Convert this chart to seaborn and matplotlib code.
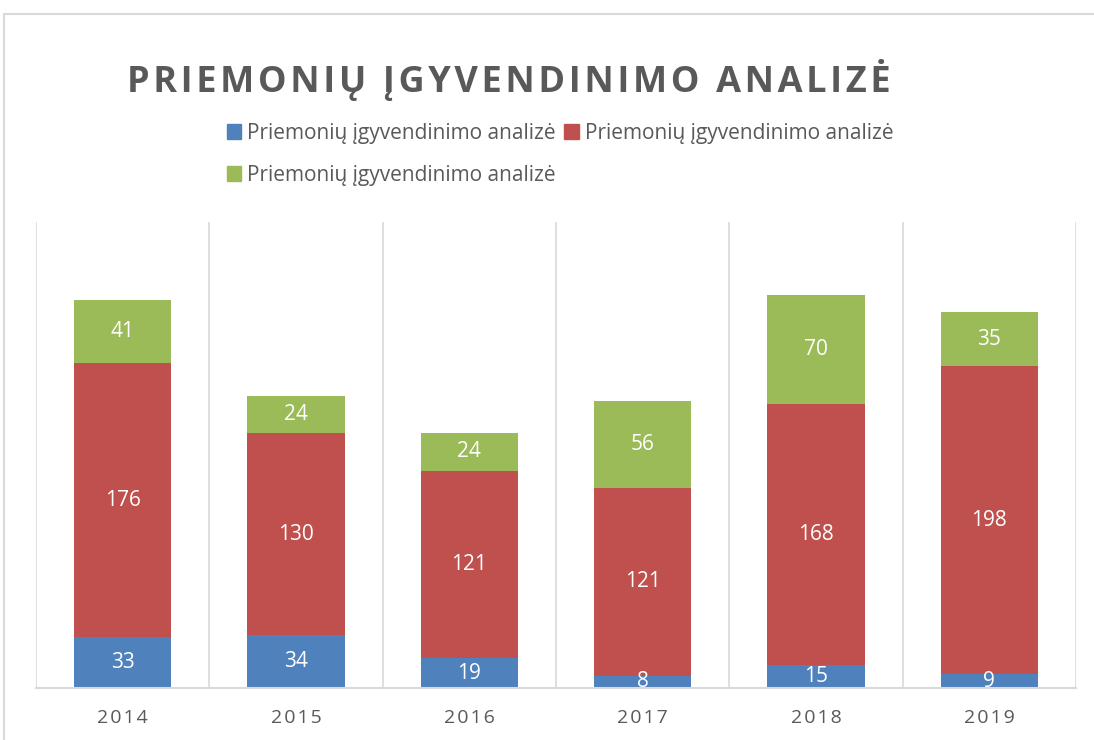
import pandas as pd
import seaborn as sns
import matplotlib.pyplot as plt
from matplotlib.patches import Patch, Rectangle

# values
years = ["2014", "2015", "2016", "2017", "2018", "2019"]
blue_vals = [33, 34, 19, 8, 15, 9]
red_vals = [176, 130, 121, 121, 168, 198]
green_vals = [41, 24, 24, 56, 70, 35]
series_label = "Priemonių įgyvendinimo analizė"
title = "PRIEMONIŲ ĮGYVENDINIMO ANALIZĖ"

c_blue, c_red, c_green = "#4F81BD", "#C0504D", "#9BBB59"
grid_c = "#D9D9D9"
text_c = "#595959"


def spaced(s):
    # fake letter spacing with hair spaces
    return "\u200a".join(s)


df = pd.DataFrame({"year": years, "blue": blue_vals, "red": red_vals, "green": green_vals})
df["low"] = df["blue"]
df["mid"] = df["blue"] + df["red"]
df["top"] = df["mid"] + df["green"]

sns.set_theme(style="white")
plt.rcParams["font.family"] = ["Open Sans", "DejaVu Sans"]

fig = plt.figure(figsize=(10.94, 7.40), dpi=100)
ax = fig.add_axes([36 / 1094, 52 / 740, 1040 / 1094, 466 / 740])

# stack by layering cumulative totals, tallest first
for col, color in [("top", c_green), ("mid", c_red), ("low", c_blue)]:
    sns.barplot(data=df, x="year", y=col, color=color, width=0.56,
                saturation=1, linewidth=0, ax=ax)

# segment labels
for i, row in df.iterrows():
    for base, val in [(0, row["blue"]), (row["low"], row["red"]), (row["mid"], row["green"])]:
        ax.text(i, base + val / 2, str(val), ha="center", va="center",
                color="white", fontsize=15)

ax.set_xlim(-0.5, len(years) - 0.5)
ax.set_ylim(0, 300)
for b in range(len(years) + 1):
    ax.axvline(b - 0.5, color=grid_c, linewidth=1.2, zorder=0)

ax.set_xlabel("")
ax.set_ylabel("")
ax.set_yticks([])
ax.set_xticks(range(len(years)))
ax.set_xticklabels([spaced(y) for y in years])
for s in ["top", "left", "right"]:
    ax.spines[s].set_visible(False)
ax.spines["bottom"].set_color(grid_c)
ax.spines["bottom"].set_linewidth(1.5)
ax.tick_params(axis="x", length=0, pad=15, labelsize=14, labelcolor=text_c)

fig.text(0.465, 0.892, spaced(title), ha="center", va="center", fontsize=26,
         fontweight="bold", color=text_c)

handles = [Patch(color=c_blue, label=series_label),
           Patch(color=c_green, label=series_label),
           Patch(color=c_red, label=series_label)]
fig.legend(handles=handles, ncol=2, loc="upper center",
           bbox_to_anchor=(0.512, 1 - 104 / 740), frameon=False,
           fontsize=15, labelcolor=text_c, handlelength=0.7, handleheight=0.7,
           handletextpad=0.3, columnspacing=0.4, labelspacing=1.0)

# outer chart border
fig.add_artist(Rectangle((4 / 1094, -0.05), 1.2, 1 - 14 / 740 + 0.05,
                         transform=fig.transFigure, fill=False,
                         edgecolor=grid_c, linewidth=1.5))

fig.savefig("out.png", dpi=100)
